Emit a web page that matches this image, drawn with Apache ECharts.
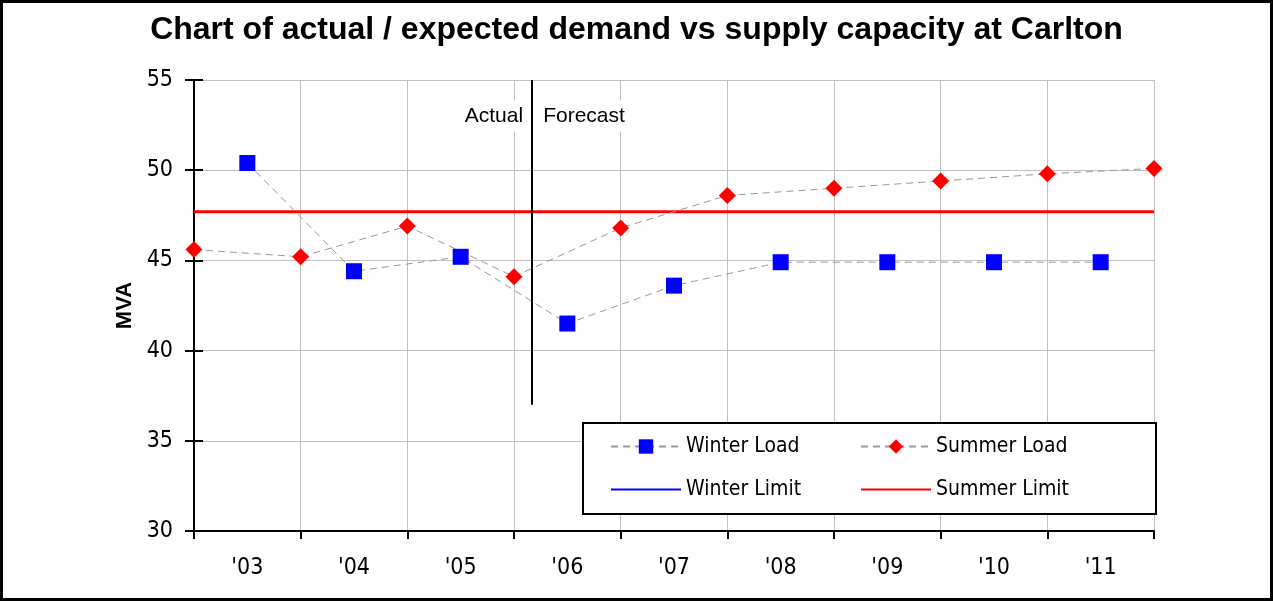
<!DOCTYPE html>
<html>
<head>
<meta charset="utf-8">
<script src="https://cdn.jsdelivr.net/npm/echarts@6/dist/echarts.min.js"></script>
<style>
html, body { margin: 0; padding: 0; background: #fff; }
#main { width: 1273px; height: 601px; }
</style>
</head>
<body>
<div id="main"></div>
<script>
var years = ["'03", "'04", "'05", "'06", "'07", "'08", "'09", "'10", "'11"];
// winter readings sit mid-year, summer readings on the year boundaries
var winterLoad = [50.4, 44.4, 45.2, 41.5, 43.6, 44.9, 44.9, 44.9, 44.9];
var summerLoad = [45.6, 45.2, 46.9, 44.1, 46.8, 48.6, 49.0, 49.4, 49.8, 50.1];
var summerLimit = 47.7;
var splitAt = 3.17; // actual / forecast divider

var narrow = "'DejaVu Sans Condensed', 'Liberation Sans', sans-serif";
var arial = "'Liberation Sans', Arial, sans-serif";

var winterPts = winterLoad.map(function (v, i) { return [i + 0.5, v]; });
var summerPts = summerLoad.map(function (v, i) { return [i, v]; });

var myChart = echarts.init(document.getElementById('main'));
var legendText = { fontFamily: narrow, fontSize: 21, color: '#000' };
var option = {
    animation: false,
    backgroundColor: '#fff',
    title: {
        text: 'Chart of actual / expected demand vs supply capacity at Carlton',
        left: 'center',
        top: 9,
        textStyle: { fontFamily: arial, fontWeight: 'bold', fontSize: 32, color: '#000' }
    },
    grid: { left: 194, right: 119, top: 80, bottom: 70 },
    xAxis: [{
        type: 'value',
        min: 0, max: 9, interval: 1,
        axisLine: { lineStyle: { color: '#000', width: 2 } },
        axisTick: { show: true, length: 8, lineStyle: { color: '#000', width: 2 } },
        axisLabel: { show: false },
        splitLine: { show: true, lineStyle: { color: '#c0c0c0', width: 1 } }
    }, {
        type: 'category',
        data: years,
        position: 'bottom',
        boundaryGap: true,
        axisLine: { show: false },
        axisTick: { show: false },
        splitLine: { show: false },
        axisLabel: { margin: 26, fontFamily: narrow, fontSize: 23, color: '#000' }
    }],
    yAxis: [{
        type: 'value',
        min: 30, max: 55, interval: 5,
        name: 'MVA',
        nameLocation: 'middle',
        nameGap: 51,
        nameTextStyle: { fontFamily: arial, fontWeight: 'bold', fontSize: 22, color: '#000' },
        axisLine: { lineStyle: { color: '#000', width: 2 } },
        axisTick: { length: 9, lineStyle: { color: '#000', width: 2 } },
        axisLabel: { margin: 21, fontFamily: narrow, fontSize: 23, color: '#000' },
        splitLine: { show: true, lineStyle: { color: '#c0c0c0', width: 1 } }
    }, {
        type: 'value',
        min: 30, max: 55, interval: 5,
        position: 'left',
        offset: 0,
        axisLine: { show: true, lineStyle: { color: '#000', width: 2 } },
        axisTick: { show: true, inside: true, length: 9, lineStyle: { color: '#000', width: 2 } },
        axisLabel: { show: false },
        splitLine: { show: false }
    }],
    legend: [{
        data: ['Winter Load', { name: 'Winter Limit', itemStyle: { opacity: 0 } }],
        orient: 'vertical',
        left: 610, top: 436,
        padding: 0,
        itemWidth: 70, itemHeight: 18, itemGap: 22,
        z: 100,
        textStyle: legendText
    }, {
        data: ['Summer Load', { name: 'Summer Limit', itemStyle: { opacity: 0 } }],
        orient: 'vertical',
        left: 860, top: 436,
        padding: 0,
        itemWidth: 70, itemHeight: 18, itemGap: 22,
        z: 100,
        textStyle: legendText
    }],
    graphic: [{
        type: 'rect',
        z: 90,
        shape: { x: 583, y: 423, width: 573, height: 91 },
        style: { fill: '#fff', stroke: '#000', lineWidth: 2 }
    }, {
        type: 'rect',
        z: 90,
        shape: { x: 1.5, y: 1.5, width: 1270, height: 598 },
        style: { fill: null, stroke: '#000', lineWidth: 3 }
    }],
    series: [{
        name: 'Winter Load',
        type: 'line',
        xAxisIndex: 0,
        data: winterPts,
        symbol: 'rect',
        symbolSize: 16,
        itemStyle: { color: '#0000ff' },
        lineStyle: { color: '#999', width: 1, type: [7, 5] },
        z: 5
    }, {
        name: 'Summer Load',
        type: 'line',
        xAxisIndex: 0,
        data: summerPts,
        symbol: 'diamond',
        symbolSize: 17,
        itemStyle: { color: '#ff0000' },
        lineStyle: { color: '#999', width: 1, type: [7, 5] },
        z: 5
    }, {
        name: 'Winter Limit',
        type: 'line',
        xAxisIndex: 0,
        data: [],
        symbol: 'none',
        itemStyle: { color: '#0000ff' },
        lineStyle: { color: '#0000ff', width: 2 }
    }, {
        name: 'Summer Limit',
        type: 'line',
        xAxisIndex: 0,
        data: [[0, summerLimit], [9, summerLimit]],
        symbol: 'none',
        itemStyle: { color: '#ff0000' },
        lineStyle: { color: '#ff0000', width: 3 },
        z: 4,
        markLine: {
            silent: true,
            symbol: 'none',
            label: { show: false },
            lineStyle: { color: '#000', width: 2, type: 'solid' },
            data: [[{ coord: [splitAt, 37] }, { coord: [splitAt, 55] }]]
        },
        markPoint: {
            silent: true,
            symbolSize: 0,
            data: [{
                coord: [splitAt, 53],
                label: { position: 'left', distance: 8, formatter: 'Actual' }
            }, {
                coord: [splitAt, 53],
                label: { position: 'right', distance: 10, formatter: 'Forecast' }
            }],
            label: {
                show: true,
                fontFamily: arial, fontSize: 21, color: '#000',
                backgroundColor: '#fff', padding: [5, 1]
            }
        }
    }]
};
myChart.setOption(option);
</script>
</body>
</html>
